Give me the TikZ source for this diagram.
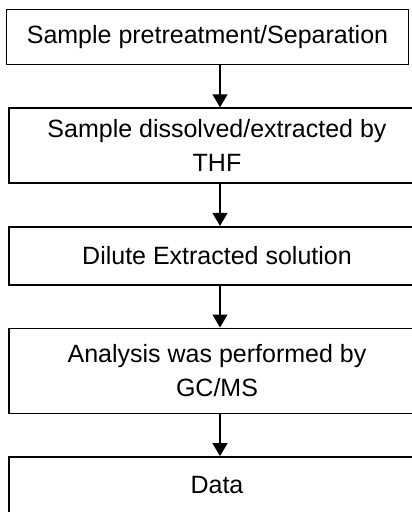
\documentclass[tikz,border=0pt]{standalone}
\usepackage{fontspec}
\setmainfont{Liberation Sans}
\usetikzlibrary{positioning,
                arrows.meta}

\begin{document}
\begin{tikzpicture}[x=1pt,y=1pt,
    stepbox/.style={draw, line width=1.6pt, minimum width=416pt,
                    align=center, inner sep=2pt,
                    font=\fontsize{25}{34}\selectfont},
    flow/.style={line width=1.4pt, -{Triangle[length=13pt,width=15pt]}}]
    \useasboundingbox (0,0) rectangle (412,-512);

    % Kaesten
    \node[stepbox, minimum width=402pt, minimum height=55pt] (pre) at (207.5,-37)
         {Sample pretreatment/Separation};
    \node[stepbox, minimum height=75pt, below=42pt of pre, xshift=9.5pt] (dis)
         {Sample dissolved/extracted by\\THF};
    \node[stepbox, minimum height=58pt, below=42pt of dis] (dil)
         {Dilute Extracted solution};
    \node[stepbox, minimum height=85pt, below=42pt of dil] (gcms)
         {Analysis was performed by\\GC/MS};
    \node[stepbox, minimum height=56pt, below=42pt of gcms] (data)
         {Data};

    % Pfeile
    \coordinate (axis) at (220,0);
    \draw[flow] (pre.south -| axis) -- (dis.north -| axis);
    \draw[flow] (dis.south -| axis) -- (dil.north -| axis);
    \draw[flow] (dil.south -| axis) -- (gcms.north -| axis);
    \draw[flow] (gcms.south -| axis) -- (data.north -| axis);

\end{tikzpicture}
\end{document}
